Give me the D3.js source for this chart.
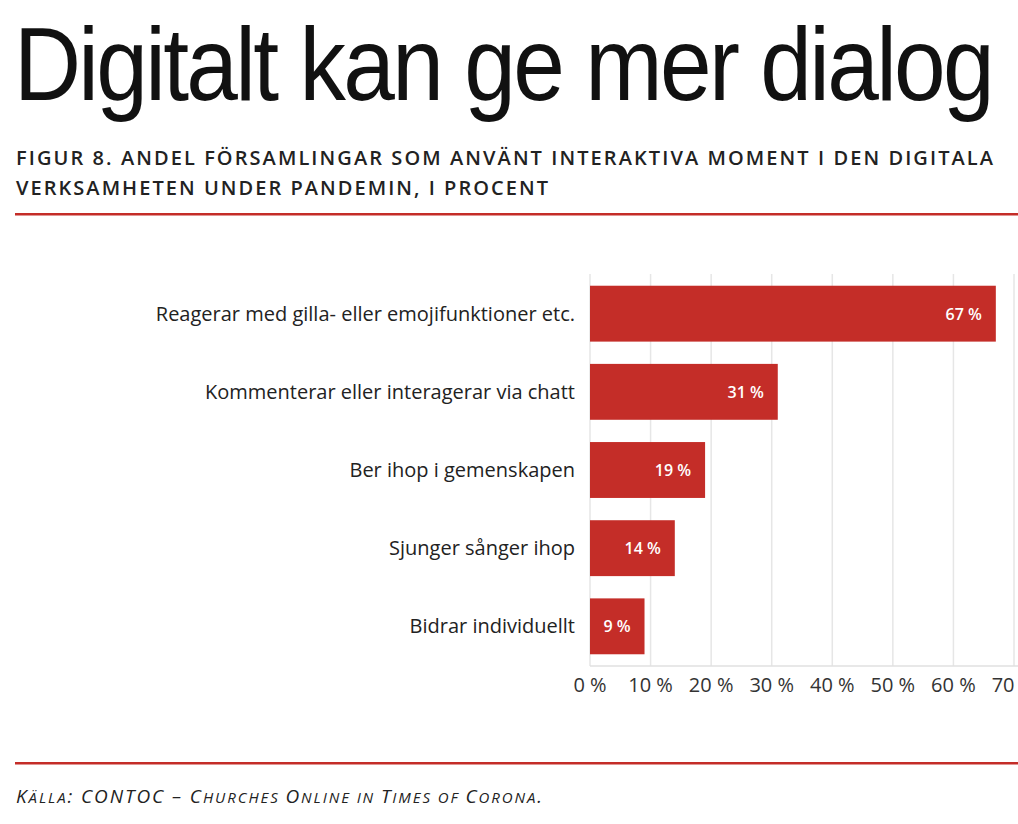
<!DOCTYPE html>
<html><head><meta charset="utf-8">
<script src="https://cdn.jsdelivr.net/npm/d3@7"></script>
<style>body{margin:0;background:#fff}svg{display:block}</style>
</head><body>
<script>
const categories = ["Reagerar med gilla- eller emojifunktioner etc.","Kommenterar eller interagerar via chatt","Ber ihop i gemenskapen","Sjunger sånger ihop","Bidrar individuellt"];
const values = [67,31,19,14,9];
const ticks = [0,10,20,30,40,50,60,70];
const red = "#c42d28";
const W=1018,H=824;
const svg=d3.select("body").append("svg").attr("width",W).attr("height",H);

svg.append("text").attr("x",14).attr("y",100).attr("font-family","Liberation Sans Narrow, Liberation Sans, sans-serif")
  .attr("font-stretch","condensed").attr("font-size",104).attr("textLength",978).attr("lengthAdjust","spacingAndGlyphs")
  .attr("letter-spacing",-3).attr("fill","#111").text("Digitalt kan ge mer dialog");
const sub=["FIGUR 8. ANDEL FÖRSAMLINGAR SOM ANVÄNT INTERAKTIVA MOMENT I DEN DIGITALA","VERKSAMHETEN UNDER PANDEMIN, I PROCENT"];
const subLen=[977,532];
sub.forEach((s,i)=>svg.append("text").attr("x",16).attr("y",165+i*30).attr("font-family","Open Sans, sans-serif")
  .attr("font-size",20).attr("font-weight",600).attr("fill","#222").attr("textLength",subLen[i]).attr("lengthAdjust","spacing").text(s));
svg.append("rect").attr("x",15).attr("y",213).attr("width",W-15).attr("height",2.5).attr("fill",red);
svg.append("rect").attr("x",15).attr("y",762).attr("width",W-15).attr("height",2.5).attr("fill",red);
const src=svg.append("text").attr("x",16).attr("y",803).attr("font-family","Open Sans, sans-serif").attr("font-style","italic").attr("fill","#222").attr("font-size",19)
  .attr("textLength",526).attr("lengthAdjust","spacing");
[["K",19],["ÄLLA",15],[": CONTOC – C",19],["HURCHES ",15],["O",19],["NLINE IN ",15],["T",19],["IMES OF ",15],["C",19],["ORONA",15],[".",19]]
  .forEach(([t,s])=>src.append("tspan").attr("font-size",s).text(t));

const x=d3.scaleLinear().domain([0,70]).range([590,1014]);
const y=d3.scaleBand().domain(categories).range([274,666]).paddingInner(0.285).paddingOuter(0.15);
svg.append("g").selectAll("line").data(ticks).join("line").attr("x1",d=>x(d)).attr("x2",d=>x(d))
  .attr("y1",274).attr("y2",666).attr("stroke","#e6e6e6").attr("stroke-width",1.5);
svg.append("line").attr("x1",590).attr("x2",1018).attr("y1",666).attr("y2",666).attr("stroke","#e0e0e0").attr("stroke-width",1.5);
svg.append("g").selectAll("text").data(ticks).join("text").attr("x",d=>x(d)).attr("y",692).attr("text-anchor","middle")
  .attr("font-family","Open Sans, sans-serif").attr("font-size",20).attr("fill","#333").text(d=>d+" %");
svg.append("g").selectAll("rect").data(values).join("rect").attr("x",x(0)).attr("y",(d,i)=>y(categories[i]))
  .attr("width",d=>x(d)-x(0)).attr("height",y.bandwidth()).attr("fill",red);
svg.append("g").selectAll("text").data(values).join("text").attr("x",d=>x(d)-14).attr("y",(d,i)=>y(categories[i])+y.bandwidth()/2+6)
  .attr("text-anchor","end").attr("font-family","Open Sans, sans-serif").attr("font-weight",600).attr("font-size",16).attr("fill","#fff").text(d=>d+" %");
svg.append("g").selectAll("text").data(categories).join("text").attr("x",575).attr("y",d=>y(d)+y.bandwidth()/2+7)
  .attr("text-anchor","end").attr("font-family","Open Sans, sans-serif").attr("font-size",20).attr("fill","#222").text(d=>d);
</script>
</body></html>
